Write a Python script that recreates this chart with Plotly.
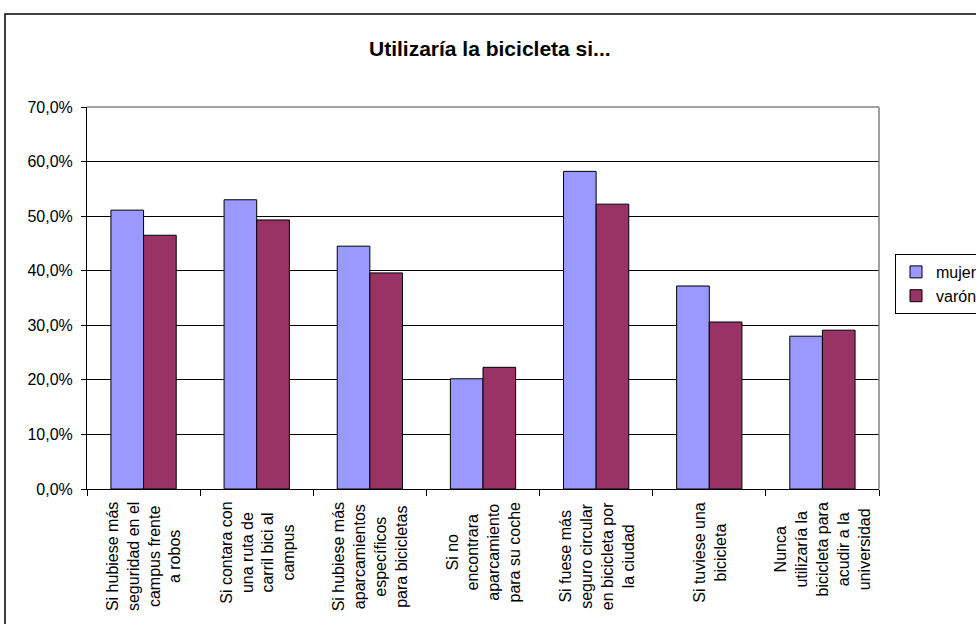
import plotly.graph_objects as go

# Survey answers: "I would use the bicycle if..."
categories = [
    "Si hubiese más<br>seguridad en el<br>campus frente<br>a robos",
    "Si contara con<br>una ruta de<br>carril bici al<br>campus",
    "Si hubiese más<br>aparcamientos<br>específicos<br>para bicicletas",
    "Si no<br>encontrara<br>aparcamiento<br>para su coche",
    "Si fuese más<br>seguro circular<br>en bicicleta por<br>la ciudad",
    "Si tuviese una<br>bicicleta",
    "Nunca<br>utilizaría la<br>bicicleta para<br>acudir a la<br>universidad",
]
mujer = [51.1, 53.0, 44.5, 20.2, 58.2, 37.2, 28.0]
varon = [46.5, 49.3, 39.6, 22.3, 52.2, 30.6, 29.1]
y_ticks = [0, 10, 20, 30, 40, 50, 60, 70]
y_tick_text = ["0,0%", "10,0%", "20,0%", "30,0%", "40,0%", "50,0%", "60,0%", "70,0%"]

FONT = "Liberation Sans, Arial, sans-serif"
W, H = 976, 624
ML, MR, MT, MB = 87, 97, 107, 135
PW, PH = W - ML - MR, H - MT - MB


def px_to_paper_x(px):
    return (px - ML) / PW


def px_to_paper_y(py):
    return (H - MB - py) / PH


fig = go.Figure()
fig.add_trace(go.Bar(
    name="mujer", x=categories, y=mujer,
    marker=dict(color="#9999FF", line=dict(color="#000000", width=1)),
))
fig.add_trace(go.Bar(
    name="varón", x=categories, y=varon,
    marker=dict(color="#993366", line=dict(color="#000000", width=1)),
))

# Category labels: rotated, lines centred within each block
annotations = []
for cat in categories:
    annotations.append(dict(
        x=cat, xref="x", y=px_to_paper_y(500), yref="paper",
        text=cat, textangle=-90, showarrow=False,
        xanchor="center", yanchor="top", align="center",
        font=dict(family=FONT, size=16, color="#000000"),
    ))

# Chart title
annotations.append(dict(
    x=px_to_paper_x(490), xref="paper", y=px_to_paper_y(49), yref="paper",
    text="<b>Utilizaría la bicicleta si...</b>", showarrow=False,
    xanchor="center", yanchor="middle",
    font=dict(family=FONT, size=21, color="#000000"),
))

shapes = [
    # outer chart frame
    dict(type="rect", xref="paper", yref="paper",
         x0=px_to_paper_x(5), x1=px_to_paper_x(1000),
         y0=px_to_paper_y(660), y1=px_to_paper_y(14),
         line=dict(color="#000000", width=1.5), layer="below"),
    # plot area frame (top and right)
    dict(type="line", xref="paper", yref="paper", x0=0, x1=1, y0=1, y1=1,
         line=dict(color="#808080", width=1.5), layer="above"),
    dict(type="line", xref="paper", yref="paper", x0=1, x1=1, y0=0, y1=1,
         line=dict(color="#808080", width=1.5), layer="above"),
]

fig.update_layout(
    width=W, height=H,
    margin=dict(l=ML, r=MR, t=MT, b=MB, autoexpand=False),
    paper_bgcolor="#FFFFFF", plot_bgcolor="#FFFFFF",
    barmode="group", bargap=0.423, bargroupgap=0,
    font=dict(family=FONT, size=16, color="#000000"),
    showlegend=True,
    legend=dict(
        x=px_to_paper_x(895), y=px_to_paper_y(254),
        xanchor="left", yanchor="top",
        bordercolor="#000000", borderwidth=1, bgcolor="#FFFFFF",
        font=dict(family=FONT, size=16, color="#000000"),
        tracegroupgap=0, itemwidth=30,
    ),
    annotations=annotations,
    shapes=shapes,
)

fig.update_xaxes(
    type="category", showticklabels=False,
    tickson="boundaries", ticks="outside", ticklen=6,
    tickcolor="#000000", tickwidth=1,
    showline=True, linecolor="#000000", linewidth=1,
    showgrid=False, zeroline=False,
)
fig.update_yaxes(
    range=[0, 70], tickmode="array", tickvals=y_ticks, ticktext=y_tick_text,
    ticks="outside", ticklen=5, tickcolor="#000000", tickwidth=1,
    ticklabelstandoff=5,
    showline=True, linecolor="#000000", linewidth=1,
    showgrid=True, gridcolor="#000000", gridwidth=1,
    zeroline=False,
    tickfont=dict(family=FONT, size=16, color="#000000"),
)

fig.write_html("out.html")
